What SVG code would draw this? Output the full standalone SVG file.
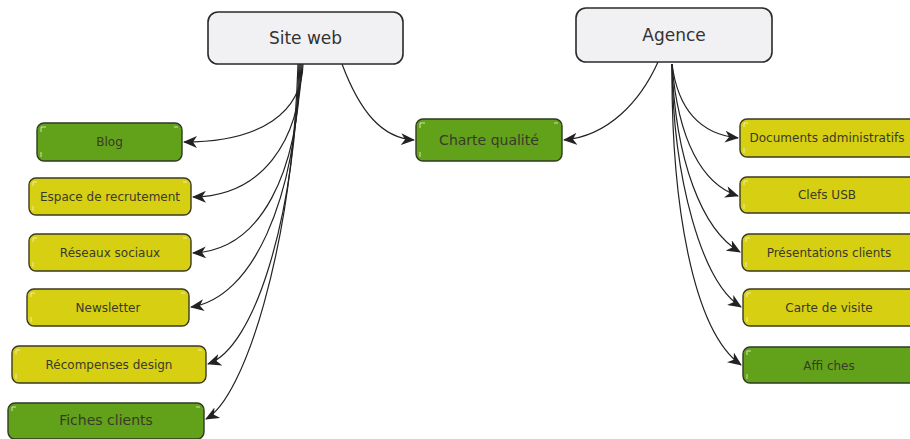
<svg xmlns="http://www.w3.org/2000/svg" width="910" height="439" viewBox="0 0 910 439">
<style>
.root rect{fill:#f1f0f3;stroke:#2a2a2a;stroke-width:1.6}
.root text{font-family:"DejaVu Sans",sans-serif;font-size:17px;fill:#333;text-anchor:middle}
.g rect{fill:#62a11a;stroke:#2f3a20;stroke-width:1.4}
.y rect{fill:#d6cf12;stroke:#3a3a20;stroke-width:1.4}
.n text{font-family:"DejaVu Sans",sans-serif;font-size:12px;fill:#3a3a2a;text-anchor:middle}
.n path{fill:none;stroke:#f4f4d8;stroke-width:1;opacity:0.8}
#edges path{fill:none;stroke:#222;stroke-width:1.2;marker-end:url(#arr)}
</style>
<defs>
<marker id="arr" markerUnits="userSpaceOnUse" markerWidth="16" markerHeight="12" refX="13" refY="6" orient="auto" viewBox="0 0 16 12">
<path d="M0,0 L14,6 L0,12 L4,6 z" fill="#222"/>
</marker>
</defs>
<rect width="910" height="439" fill="#ffffff"/>
<g id="edges">
<path d="M303,64 C302,112 262,142 184,142"/>
<path d="M302,64 C300,142 262,196 193,197"/>
<path d="M301,64 C298,172 262,250 193,253"/>
<path d="M300,64 C296,202 252,298 191,307"/>
<path d="M299,64 C294,222 254,348 208,364"/>
<path d="M298,64 C292,250 244,398 206,419"/>
<path d="M342,64 C360,112 382,138 414,140"/>
<path d="M658,62 C640,102 608,136 564,140"/>
<path d="M672,64 C678,110 700,134 738,138"/>
<path d="M672,64 C678,140 702,184 738,196"/>
<path d="M672,64 C675,160 702,230 740,252"/>
<path d="M672,64 C673,180 702,282 741,307"/>
<path d="M672,64 C671,200 692,330 741,365"/>
</g>
<g id="site-web" class="root"><rect x="208" y="12" width="195" height="52" rx="10"/><text x="305.5" y="44">Site web</text></g>
<g id="agence" class="root"><rect x="576" y="8" width="196" height="54" rx="10"/><text x="674" y="41">Agence</text></g>
<g id="blog" class="n g"><rect x="37" y="123" width="145" height="38" rx="7"/><path d="M41,132 v-5 h5 M174,127 h4 M41,152 v5"/><text x="109.5" y="146">Blog</text></g>
<g id="espace" class="n y"><rect x="29" y="178" width="162" height="37" rx="7"/><path d="M33,186 v-4 h4 M183,182 h4 M33,206 v5"/><text x="110" y="201">Espace de recrutement</text></g>
<g id="reseaux" class="n y"><rect x="29" y="234" width="162" height="37" rx="7"/><path d="M33,242 v-4 h4 M183,238 h4 M33,262 v5"/><text x="110" y="257">Réseaux sociaux</text></g>
<g id="newsletter" class="n y"><rect x="27" y="289" width="162" height="37" rx="7"/><path d="M31,297 v-4 h4 M181,293 h4 M31,317 v5"/><text x="108" y="312">Newsletter</text></g>
<g id="recompenses" class="n y"><rect x="12" y="346" width="194" height="37" rx="7"/><path d="M16,354 v-4 h4 M198,350 h4 M16,374 v5"/><text x="109" y="369">Récompenses design</text></g>
<g id="fiches" class="n g"><rect x="8" y="403" width="196" height="36" rx="7"/><path d="M12,411 v-4 h4 M196,407 h4"/><text x="106" y="425" style="font-size:14px">Fiches clients</text></g>
<g id="charte" class="n g"><rect x="416" y="119" width="146" height="42" rx="7"/><path d="M420,128 v-5 h5 M554,123 h4 M420,152 v5"/><text x="489" y="145" style="font-size:14px">Charte qualité</text></g>
<g id="documents" class="n y"><rect x="740" y="119" width="176" height="38" rx="7"/><path d="M744,127 v-4 h4 M744,148 v5"/><text x="827" y="142">Documents administratifs</text></g>
<g id="clefs" class="n y"><rect x="740" y="177" width="176" height="36" rx="7"/><path d="M744,185 v-4 h4 M744,204 v5"/><text x="827" y="199">Clefs USB</text></g>
<g id="presentations" class="n y"><rect x="742" y="234" width="174" height="37" rx="7"/><path d="M746,242 v-4 h4 M746,262 v5"/><text x="829" y="257">Présentations clients</text></g>
<g id="carte" class="n y"><rect x="743" y="289" width="173" height="37" rx="7"/><path d="M747,297 v-4 h4 M747,317 v5"/><text x="829" y="312">Carte de visite</text></g>
<g id="affiches" class="n g"><rect x="743" y="347" width="173" height="36" rx="7"/><path d="M747,355 v-4 h4 M747,374 v5"/><text x="829" y="370">Affi ches</text></g>
</svg>
